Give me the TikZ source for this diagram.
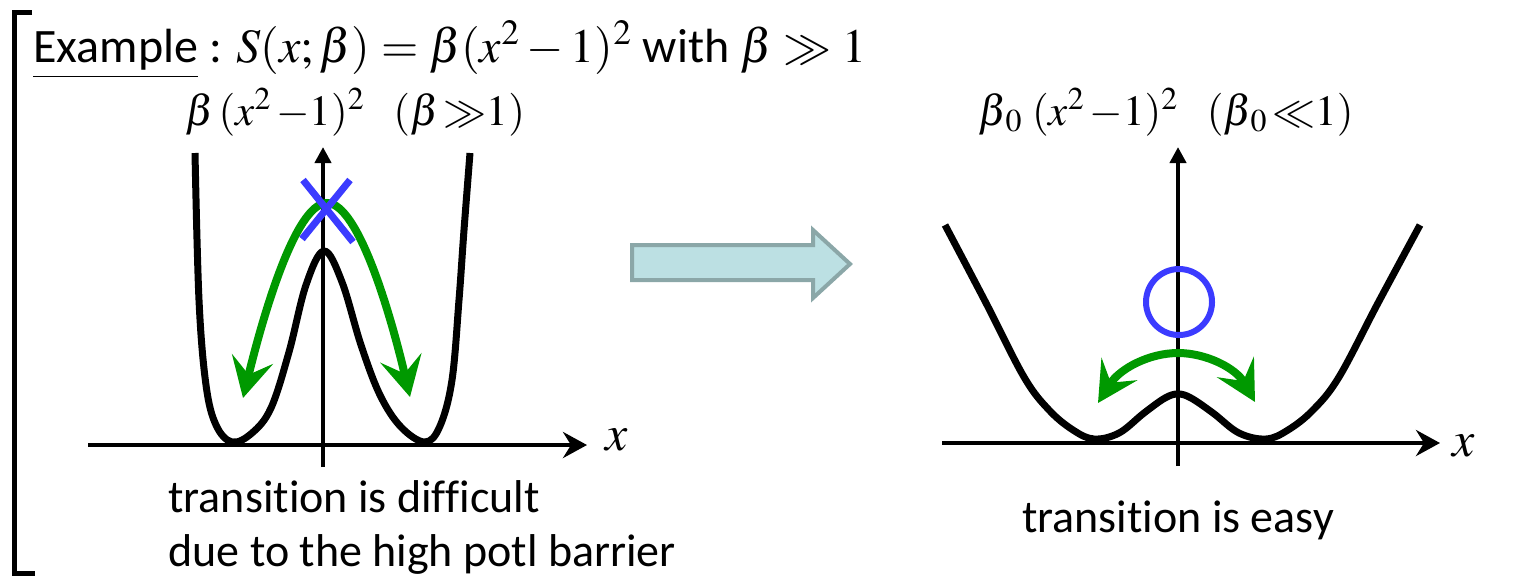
\documentclass[tikz,border=0pt]{standalone}
\usepackage{mathptmx}
\usepackage[no-math]{fontspec}
\setmainfont{Carlito}[Ligatures=NoCommon]
\usetikzlibrary{
	arrows.meta,
	positioning
}
\usepackage{xcolor}
\definecolor{hopgreen}{RGB}{0,153,0}
\definecolor{markblue}{RGB}{59,59,255}
\definecolor{blockfill}{RGB}{188,224,227}
\definecolor{blockdraw}{RGB}{139,167,168}

\begin{document}
\begin{tikzpicture}[
			x=0.5pt,y=-0.5pt,
			every node/.style={inner sep=0pt,font=\fontsize{23}{27}\selectfont},
			>=Stealth,
			yaxis/.style={line width=2.2pt,-{Triangle[length=8pt,width=8pt]}},
			xaxis/.style={line width=2.2pt,-{Stealth[length=12pt,width=13pt,inset=4pt]}},
			potl/.style={line width=3.5pt,line join=round},
			hop/.style={hopgreen,line width=4pt,
				{Stealth[length=20pt,width=21pt,inset=8pt]}-{Stealth[length=20pt,width=21pt,inset=8pt]}},
			cross/.style={markblue,line width=3.5pt},
			okring/.style={markblue,line width=3pt},
			block/.style={draw=blockdraw,fill=blockfill,line width=2pt,line join=miter},
			formula/.style={font=\fontsize{21.5}{25}\selectfont}
			]
			\useasboundingbox (0,0) rectangle (1513,580);
			
			% Bracket and heading
			\draw[line width=2.5pt] (32,12) -- (14,12) -- (14,573) -- (35,573);
			\node[anchor=base west,font=\fontsize{24}{28}\selectfont] (head) at (33,62)
				{\underline{Example} : $S(x;\beta)=\beta(x^2-1)^2$ with $\beta\gg1$};
			
			% Left potential (beta >> 1)
			\node[formula] (ltitle) at (355,112) {$\beta\,(x^2\,{-}1)^2\;\;\;(\beta\,{\gg}1)$};
			\coordinate (lxs) at (88,445);
			\coordinate (lxe) at (587,445);
			\coordinate (lys) at (323,467);
			\coordinate (lye) at (323,147);
			\draw[xaxis] (lxs) -- (lxe);
			\draw[yaxis] (lys) -- (lye);
			\node[font=\fontsize{25}{27}\selectfont] (lx) at (617,440) {$x$};
			\draw[potl] plot[smooth,tension=0.6] coordinates {
				(195,153) (199,300) (206,385) (216,425) (232,442)
				(252,433) (271,408) (289,352) (306,285) (324,251)
				(342,282) (361,345) (380,395) (401,427) (425,442)
				(440,426) (452,380) (459,300) (464,230) (470,153)};
			
			% Hops over the barrier
			\coordinate (lapex) at (327,203);
			\coordinate (lhl) at (243,398);
			\coordinate (lhr) at (410,397);
			\draw[hop] (lhl) .. controls (262,320) and (295,203) .. (lapex)
				.. controls (359,203) and (392,320) .. (lhr);
			\draw[cross] (303,180) -- (353,242);
			\draw[cross] (350,180) -- (302,239);
			
			\node[align=left,anchor=north west] (lnote) at (168,480)
				{transition is difficult\\due to the high potl barrier};
			
			% Block arrow
			\draw[block] (632,245) -- (813,245) -- (813,230) -- (850,264)
				-- (813,298) -- (813,280) -- (632,280) -- cycle;
			
			% Right potential (beta_0 << 1)
			\node[formula] (rtitle) at (1166,112) {$\beta_{\,0}\;(x^2\,{-}1)^2\;\;\;(\beta_{\,0}\,{\ll}1)$};
			\coordinate (rxs) at (942,443);
			\coordinate (rxe) at (1440,443);
			\coordinate (rys) at (1178,466);
			\coordinate (rye) at (1178,147);
			\draw[xaxis] (rxs) -- (rxe);
			\draw[yaxis] (rys) -- (rye);
			\node[font=\fontsize{25}{27}\selectfont] (rx) at (1464,446) {$x$};
			\draw[potl] plot[smooth,tension=0.6] coordinates {
				(945,225) (986,303) (1024,377) (1049,410) (1073,430) (1094,439)
				(1119,433) (1144,413) (1165,398) (1178,394)
				(1191,398) (1213,413) (1239,433) (1266,439) (1288,430) (1313,410)
				(1339,377) (1378,303) (1420,225)};
			
			\node[circle,okring,draw,minimum size=33pt] (ring) at (1179,302) {};
			\coordinate (rapex) at (1178,353);
			\coordinate (rhl) at (1098,403);
			\coordinate (rhr) at (1255,402);
			\draw[hop] (rhl) .. controls (1120,368) and (1150,353) .. (rapex)
				.. controls (1206,353) and (1236,368) .. (rhr);
			
			\node (rnote) at (1178,520) {transition is easy};
			
		\end{tikzpicture}
\end{document}
